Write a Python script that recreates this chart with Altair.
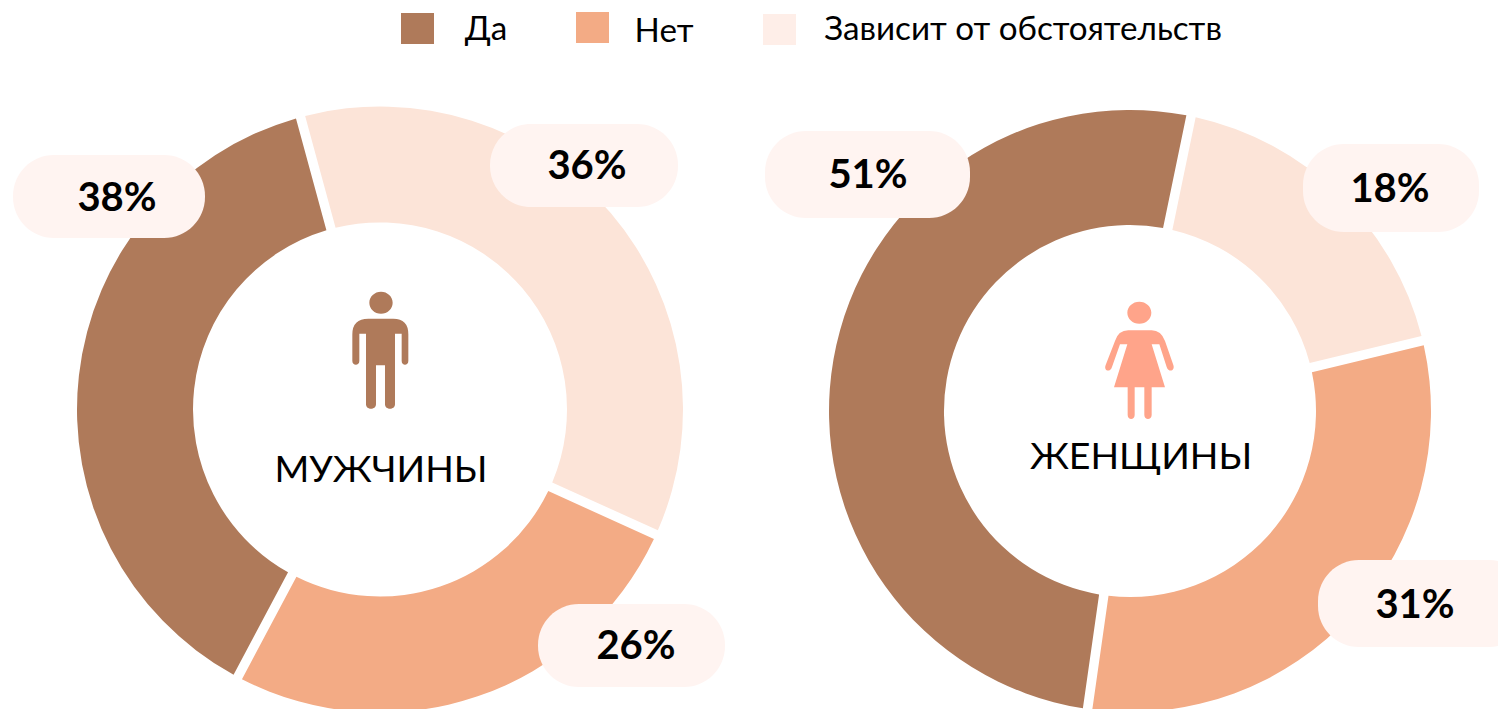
import math
import altair as alt
import pandas as pd

FONT = "Lato"

categories = ["Зависит от обстоятельств", "Нет", "Да"]
men_values = [36, 26, 38]
women_values = [18, 31, 51]
slice_colors = ["#FCE4D8", "#F3AB85", "#AF7A5A"]

legend_names = ["Да", "Нет", "Зависит от обстоятельств"]
legend_colors = ["#AF7A5A", "#F3AB85", "#FEEEE8"]
legend_x = [401, 576, 763]
legend_x2 = [434, 609, 796]
legend_y = [13, 12, 14]
legend_y2 = [44, 43, 45]
legend_text_x = [486, 664, 1023]
legend_text_y = [30, 32, 30]

pill_labels = ["38%", "36%", "26%", "51%", "18%", "31%"]
pill_x = [13, 490, 538, 765, 1303, 1318]
pill_x2 = [205, 678, 725, 970, 1479, 1530]
pill_y = [155, 124, 604, 131, 144, 560]
pill_y2 = [238, 207, 687, 218, 232, 647]
pill_text_x = [117, 587, 636, 868, 1390, 1415]
pill_text_y = [199, 167, 647, 176, 190, 606]

group_names = ["МУЖЧИНЫ", "ЖЕНЩИНЫ"]
group_x = [381, 1141]
group_y = [471, 458]


def donut_rows(values, start_deg, cx, cy):
    rows, cum = [], start_deg
    for name, v in zip(categories, values):
        rows.append(dict(cat=name, start=cum, end=cum + v * 3.6, cx=cx, cy=cy))
        cum += v * 3.6
    return rows


X = alt.Scale(domain=[8, 1498], range=[0, 1490], nice=False, zero=False)
Y = alt.Scale(domain=[8, 709], range=[0, 701], nice=False, zero=False)
THETA = alt.Scale(domain=[0, 360], range=[0, 2 * math.pi], nice=False, zero=False)
COLOR = alt.Scale(domain=categories, range=slice_colors)


def xq(f):
    return alt.X(f, type="quantitative", scale=X, axis=None)


def yq(f):
    return alt.Y(f, type="quantitative", scale=Y, axis=None)


def donut(values, start_deg, cx, cy, r_outer, r_inner):
    df = pd.DataFrame(donut_rows(values, start_deg, cx, cy))
    return (
        alt.Chart(df)
        .mark_arc(
            radius=r_outer,
            radius2=r_inner,
            padAngle=9.5 / math.hypot(r_outer, r_inner),
        )
        .encode(
            x=xq("cx"),
            y=yq("cy"),
            theta=alt.Theta("start:Q", scale=THETA),
            theta2=alt.Theta2("end:Q"),
            color=alt.Color("cat:N", scale=COLOR, legend=None),
        )
    )


def build_path(parts, ox, oy):
    """Icon outline from crop pixels (3x) to the -1..1 symbol square (R = 60px)."""
    out = []
    for p in parts:
        cmd, nums = p[0], p[1:]
        coords = []
        for i, n in enumerate(nums):
            o = ox if i % 2 == 0 else oy
            coords.append(f"{(n - o) / 3 / 60:.4f}")
        out.append(cmd + " ".join(coords))
    return " ".join(out)


def ellipse(cx, cy, rx, ry):
    k = 0.5523
    return [
        ("M", cx - rx, cy),
        ("C", cx - rx, cy - k * ry, cx - k * rx, cy - ry, cx, cy - ry),
        ("C", cx + k * rx, cy - ry, cx + rx, cy - k * ry, cx + rx, cy),
        ("C", cx + rx, cy + k * ry, cx + k * rx, cy + ry, cx, cy + ry),
        ("C", cx - k * rx, cy + ry, cx - rx, cy + k * ry, cx - rx, cy),
        ("Z",),
    ]


male_parts = ellipse(153, 65, 35, 33) + [
    ("M", 67, 160),
    ("Q", 67, 113, 115, 113),
    ("L", 190, 113),
    ("Q", 235, 113, 235, 160),
    ("L", 235, 240),
    ("C", 235, 255, 215, 255, 215, 240),
    ("L", 215, 158),
    ("L", 195, 158),
    ("L", 195, 370),
    ("C", 195, 388, 165, 388, 165, 370),
    ("L", 165, 253),
    ("L", 138, 253),
    ("L", 138, 370),
    ("C", 138, 388, 108, 388, 108, 370),
    ("L", 108, 158),
    ("L", 88, 158),
    ("L", 88, 240),
    ("C", 88, 255, 67, 255, 67, 240),
    ("Z",),
]

female_parts = ellipse(148, 65, 36, 33) + [
    ("M", 75, 150),
    ("Q", 85, 118, 115, 118),
    ("L", 185, 118),
    ("Q", 213, 118, 225, 150),
    ("L", 250, 222),
    ("C", 256, 240, 236, 246, 230, 228),
    ("L", 208, 160),
    ("L", 185, 160),
    ("L", 225, 289),
    ("L", 185, 289),
    ("L", 185, 372),
    ("C", 185, 388, 163, 388, 163, 372),
    ("L", 163, 289),
    ("L", 134, 289),
    ("L", 134, 372),
    ("C", 134, 388, 113, 388, 113, 372),
    ("L", 113, 289),
    ("L", 72, 289),
    ("L", 112, 160),
    ("L", 90, 160),
    ("L", 66, 228),
    ("C", 60, 246, 40, 240, 47, 222),
    ("Z",),
]


def icon(parts, ox, oy, cx, cy, color):
    return (
        alt.Chart(pd.DataFrame({"x": [cx], "y": [cy]}))
        .mark_point(
            shape=build_path(parts, ox, oy),
            size=14400,
            filled=True,
            fill=color,
            opacity=1,
            strokeWidth=0,
        )
        .encode(x=xq("x"), y=yq("y"))
    )


pills = pd.DataFrame(
    dict(label=pill_labels, x=pill_x, x2=pill_x2, y=pill_y, y2=pill_y2,
         tx=pill_text_x, ty=pill_text_y)
)
pill_layer = (
    alt.Chart(pills)
    .mark_rect(cornerRadius=41, color="#FFF4F1", clip=False)
    .encode(x=xq("x"), x2="x2:Q", y=yq("y"), y2="y2:Q")
)
pill_text = (
    alt.Chart(pills)
    .mark_text(font=FONT, fontSize=40, fontWeight=700, color="#000000", baseline="middle")
    .encode(x=xq("tx"), y=yq("ty"), text="label:N")
)

legend_df = pd.DataFrame(
    dict(name=legend_names, color=legend_colors, x=legend_x, x2=legend_x2,
         y=legend_y, y2=legend_y2, tx=legend_text_x, ty=legend_text_y)
)
legend_rect = (
    alt.Chart(legend_df)
    .mark_rect()
    .encode(x=xq("x"), x2="x2:Q", y=yq("y"), y2="y2:Q",
            color=alt.Color("color:N", scale=None))
)
legend_text = (
    alt.Chart(legend_df)
    .mark_text(font=FONT, fontSize=33.2, color="#000000", baseline="middle")
    .encode(x=xq("tx"), y=yq("ty"), text="name:N")
)

group_df = pd.DataFrame(dict(name=group_names, x=group_x, y=group_y))
group_text = (
    alt.Chart(group_df)
    .mark_text(font=FONT, fontSize=37.5, color="#000000", baseline="middle")
    .encode(x=xq("x"), y=yq("y"), text="name:N")
)

chart = (
    alt.layer(
        donut(men_values, -15.2, 380, 409.5, 303, 187),
        donut(women_values, 11.7, 1130, 411, 301, 186),
        icon(male_parts, 150, 210, 380, 351, "#AF7A5A"),
        icon(female_parts, 150, 210, 1140, 361, "#FFA48A"),
        pill_layer,
        pill_text,
        legend_rect,
        legend_text,
        group_text,
    )
    .properties(
        width=1490,
        height=701,
        padding=0,
        autosize=alt.AutoSizeParams(type="none"),
        background="#FFFFFF",
    )
    .configure_view(stroke=None)
)

chart.save("out.html", embed_options={"renderer": "svg", "actions": False})
